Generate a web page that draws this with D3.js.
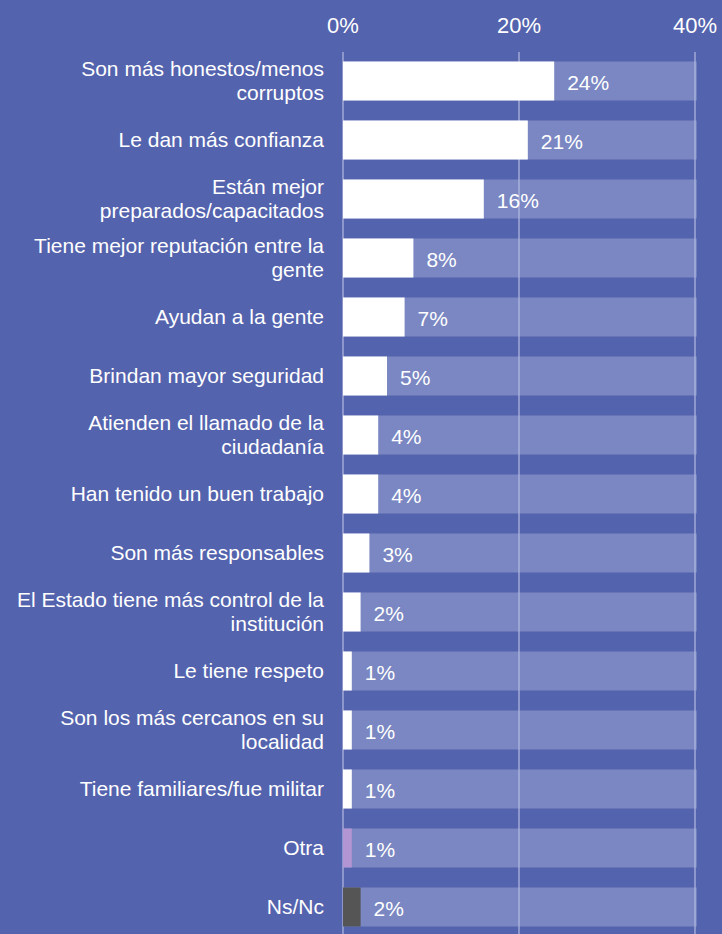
<!DOCTYPE html>
<html>
<head>
<meta charset="utf-8">
<script src="https://cdn.jsdelivr.net/npm/d3@7"></script>
<style>
  body { margin: 0; background: #5463ad; }
  svg { display: block; font-family: 'Liberation Sans', Arial, sans-serif; }
</style>
</head>
<body>
<svg width="722" height="934"></svg>
<script>
var categories = [
  'Son más honestos/menos|corruptos',
  'Le dan más confianza',
  'Están mejor|preparados/capacitados',
  'Tiene mejor reputación entre la|gente',
  'Ayudan a la gente',
  'Brindan mayor seguridad',
  'Atienden el llamado de la|ciudadanía',
  'Han tenido un buen trabajo',
  'Son más responsables',
  'El Estado tiene más control de la|institución',
  'Le tiene respeto',
  'Son los más cercanos en su|localidad',
  'Tiene familiares/fue militar',
  'Otra',
  'Ns/Nc'
];
var values = [24, 21, 16, 8, 7, 5, 4, 4, 3, 2, 1, 1, 1, 1, 2];
var barColors = ['#ffffff', '#ffffff', '#ffffff', '#ffffff', '#ffffff', '#ffffff', '#ffffff',
  '#ffffff', '#ffffff', '#ffffff', '#ffffff', '#ffffff', '#ffffff', '#b295d2', '#555555'];
var tickValues = [0, 20, 40];

var svg = d3.select('svg');
var svgWidth = +svg.attr('width');
var svgHeight = +svg.attr('height');
var padding = {t: 61.5, l: 343, r: 695};

var xScale = d3.scaleLinear().domain([0, 40]).range([padding.l, padding.r]);
var yScale = d3.scaleBand().domain(d3.range(categories.length))
    .range([padding.t, 926.5]).paddingInner(0.339).paddingOuter(0);

// background track bars
svg.append('g').selectAll('rect')
    .data(values).enter().append('rect')
    .attr('x', xScale(0))
    .attr('y', function(d, i){ return yScale(i); })
    .attr('width', xScale(40.2) - xScale(0))
    .attr('height', yScale.bandwidth())
    .style('fill', '#7a87c2');

// grid lines
svg.append('g').selectAll('line')
    .data(tickValues).enter().append('line')
    .attr('x1', function(d){ return xScale(d); })
    .attr('x2', function(d){ return xScale(d); })
    .attr('y1', 52).attr('y2', svgHeight)
    .style('stroke', '#b4bbe2').style('stroke-width', 1.5).style('opacity', 0.8);

// tick labels on top
svg.append('g').selectAll('text')
    .data(tickValues).enter().append('text')
    .attr('x', function(d){ return xScale(d); })
    .attr('y', 33)
    .attr('text-anchor', 'middle')
    .style('fill', '#ffffff').style('font-size', '22px')
    .text(function(d){ return d + '%'; });

// value bars
svg.append('g').selectAll('rect')
    .data(values).enter().append('rect')
    .attr('x', xScale(0))
    .attr('y', function(d, i){ return yScale(i); })
    .attr('width', function(d){ return xScale(d) - xScale(0); })
    .attr('height', yScale.bandwidth())
    .style('fill', function(d, i){ return barColors[i]; });

// value labels
svg.append('g').selectAll('text')
    .data(values).enter().append('text')
    .attr('x', function(d){ return xScale(d) + 13; })
    .attr('y', function(d, i){ return yScale(i) + yScale.bandwidth() / 2 + 9; })
    .style('fill', '#ffffff').style('font-size', '21px')
    .text(function(d){ return d + '%'; });

// category labels
var labels = svg.append('g').selectAll('text')
    .data(categories).enter().append('text')
    .attr('text-anchor', 'end')
    .style('fill', '#ffffff').style('font-size', '21px');

labels.each(function(d, i){
  var lines = d.split('|');
  var cy = yScale(i) + yScale.bandwidth() / 2;
  var start = cy - (lines.length - 1) * 12 + 7;
  d3.select(this).selectAll('tspan')
    .data(lines).enter().append('tspan')
    .attr('x', 324)
    .attr('y', function(l, j){ return start + j * 24; })
    .text(function(l){ return l; });
});
</script>
</body>
</html>
